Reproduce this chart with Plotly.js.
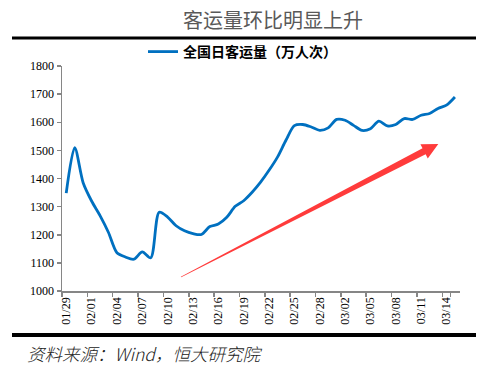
<!DOCTYPE html>
<html>
<head>
<meta charset="utf-8">
<script src="https://cdn.plot.ly/plotly-3.0.1.min.js"></script>
<style>html,body{margin:0;padding:0;background:#fff;}#chart{width:503px;height:376px;}</style>
</head>
<body>
<div id="chart"></div>
<script>
// ---- data ----
const dates = [
  "01/29","01/30","01/31","02/01","02/02","02/03","02/04","02/05","02/06","02/07",
  "02/08","02/09","02/10","02/11","02/12","02/13","02/14","02/15","02/16","02/17",
  "02/18","02/19","02/20","02/21","02/22","02/23","02/24","02/25","02/26","02/27",
  "02/28","02/29","03/01","03/02","03/03","03/04","03/05","03/06","03/07","03/08",
  "03/09","03/10","03/11","03/12","03/13","03/14","03/15"
];
const passengers = [
  1348,1510,1385,1320,1268,1208,1136,1121,1113,1139,
  1118,1280,1263,1232,1214,1204,1201,1229,1238,1262,
  1301,1321,1351,1387,1429,1476,1536,1588,1592,1583,
  1571,1580,1610,1607,1589,1571,1577,1604,1587,1592,
  1613,1610,1625,1631,1649,1661,1690
];
const seriesName = "全国日客运量（万人次）";
const chartTitle = "客运量环比明显上升";
const sourceText = "资料来源：Wind，恒大研究院";
const tickLabels = dates.filter((d, i) => i % 3 === 0);

// ---- layout helpers (pixel -> paper) ----
const L = 62, R = 43, T = 66, B = 85, W = 503, H = 376;
const pw = W - L - R, ph = H - T - B;
const px = x => (x - L) / pw;
const py = y => (H - B - y) / ph;

// tapered arrow (decoration) in pixel space
function arrowPath(tx, ty, hx, hy, tailW, shaftW, headW, headL) {
  const dx = hx - tx, dy = hy - ty, len = Math.hypot(dx, dy);
  const ux = dx / len, uy = dy / len, nx = -uy, ny = ux;
  const bx = hx - ux * headL, by = hy - uy * headL;
  const pts = [
    [tx + nx * tailW, ty + ny * tailW],
    [bx + nx * shaftW, by + ny * shaftW],
    [bx + nx * headW, by + ny * headW],
    [hx, hy],
    [bx - nx * headW, by - ny * headW],
    [bx - nx * shaftW, by - ny * shaftW],
    [tx - nx * tailW, ty - ny * tailW]
  ];
  return "M" + pts.map(p => px(p[0]).toFixed(5) + "," + py(p[1]).toFixed(5)).join(" L") + " Z";
}

const trace = {
  x: dates,
  y: passengers,
  type: "scatter",
  mode: "lines",
  name: seriesName,
  line: { color: "#0070C0", width: 2.8, shape: "spline", smoothing: 0.8 }
};

const axisFont = { family: "Liberation Serif, Times New Roman, serif", size: 12, color: "#000" };

const layout = {
  width: W, height: H,
  margin: { l: L, r: R, t: T, b: B, pad: 0 },
  paper_bgcolor: "#fff", plot_bgcolor: "#fff",
  title: {
    text: chartTitle,
    font: { family: "Noto Sans CJK SC, sans-serif", size: 20, color: "#595959" },
    xref: "container", yref: "container",
    x: 273 / W, y: 1 - 21 / H, xanchor: "center", yanchor: "middle"
  },
  showlegend: true,
  legend: {
    orientation: "h",
    x: px(143), y: py(52), xanchor: "left", yanchor: "middle",
    font: { family: "Noto Sans CJK SC, sans-serif", size: 14, color: "#000", weight: "bold" },
    itemwidth: 30, bgcolor: "rgba(0,0,0,0)"
  },
  xaxis: {
    type: "category",
    range: [-0.5, 46.6],
    tickmode: "array",
    tickvals: tickLabels,
    ticktext: tickLabels,
    tickson: "boundaries",
    tickangle: -90,
    ticks: "outside", ticklen: 4, tickwidth: 1.5, tickcolor: "#868686",
    showline: true, linecolor: "#868686", linewidth: 1.5,
    showgrid: false, zeroline: false,
    tickfont: axisFont,
    fixedrange: true
  },
  yaxis: {
    range: [1000, 1800],
    tickmode: "linear", tick0: 1000, dtick: 100,
    ticks: "outside", ticklen: 4, tickwidth: 1.5, tickcolor: "#868686",
    showline: true, linecolor: "#868686", linewidth: 1.5,
    showgrid: false, zeroline: false,
    tickfont: axisFont,
    fixedrange: true
  },
  shapes: [
    { type: "line", xref: "paper", yref: "paper", x0: px(12), x1: px(476), y0: py(38), y1: py(38),
      line: { color: "#000", width: 3 } },
    { type: "line", xref: "paper", yref: "paper", x0: px(12), x1: px(476), y0: py(335), y1: py(335),
      line: { color: "#000", width: 4 } },
    { type: "path", xref: "paper", yref: "paper",
      path: arrowPath(181, 277, 438.3, 144, 0.4, 3.4, 8, 16),
      fillcolor: "#FF3B3B", line: { width: 0 } }
  ],
  annotations: [
    { text: sourceText, xref: "paper", yref: "paper", x: px(25), y: py(353),
      xanchor: "left", yanchor: "middle", showarrow: false,
      font: { family: "Noto Sans CJK SC, sans-serif", size: 17.5, color: "#222", style: "italic", weight: 300 } }
  ]
};

Plotly.newPlot("chart", [trace], layout, { staticPlot: true, displayModeBar: false });
</script>
</body>
</html>
